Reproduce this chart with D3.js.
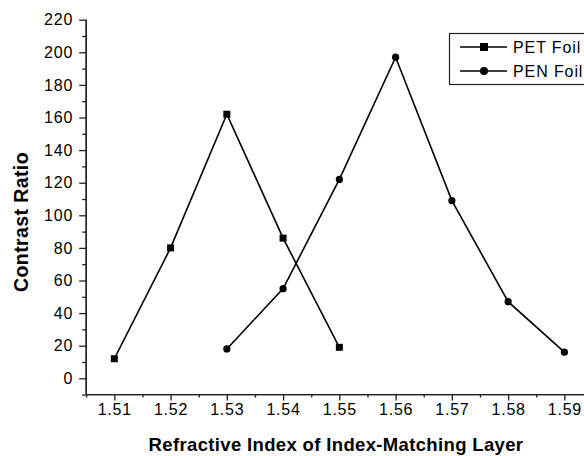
<!DOCTYPE html>
<html>
<head>
<meta charset="utf-8">
<script src="https://cdn.jsdelivr.net/npm/d3@7/dist/d3.min.js"></script>
<style>
  html, body { margin: 0; padding: 0; background: #fff; }
  svg { display: block; }
  text { font-family: "Liberation Sans", Arial, sans-serif; fill: #000; }
</style>
</head>
<body>
<svg id="chart" width="584" height="456"></svg>
<script>
// ---- data ----
const refractiveIndex = [1.51, 1.52, 1.53, 1.54, 1.55, 1.56, 1.57, 1.58, 1.59];
const petIndex = [1.51, 1.52, 1.53, 1.54, 1.55];
const petContrast = [12, 80, 162, 86, 19];
const penIndex = [1.53, 1.54, 1.55, 1.56, 1.57, 1.58, 1.59];
const penContrast = [18, 55, 122, 197, 109, 47, 16];
const yTicks = [0, 20, 40, 60, 80, 100, 120, 140, 160, 180, 200, 220];
const yMinorTicks = [-10, 10, 30, 50, 70, 90, 110, 130, 150, 170, 190, 210];
const xMinorTicks = [1.505, 1.515, 1.525, 1.535, 1.545, 1.555, 1.565, 1.575, 1.585, 1.595];
const seriesNames = ["PET Foil", "PEN Foil"];
const xTitle = "Refractive Index of Index-Matching Layer";
const yTitle = "Contrast Ratio";

const svg = d3.select("#chart");
const x = d3.scaleLinear().domain([1.505, 1.595]).range([86.2, 592.5]);
const y = d3.scaleLinear().domain([-10, 220]).range([394.6, 19.7]);
const x0 = x.range()[0], yb = y.range()[0];

// Y axis
const yAxis = svg.append("g").attr("transform", `translate(${x0},0)`);
yAxis.call(d3.axisLeft(y).tickValues(yTicks).tickSize(7).tickPadding(6).tickFormat(d3.format("d")));
yAxis.append("g").call(d3.axisLeft(y).tickValues(yMinorTicks).tickSize(4).tickFormat(""));
yAxis.selectAll(".domain").attr("d", `M0,${y(220)}V${yb}`);
// X axis
const xAxis = svg.append("g").attr("transform", `translate(0,${yb})`);
xAxis.call(d3.axisBottom(x).tickValues(refractiveIndex).tickSize(6).tickPadding(3).tickFormat(d3.format(".2f")));
xAxis.append("g").call(d3.axisBottom(x).tickValues(xMinorTicks).tickSize(3).tickFormat(""));
xAxis.selectAll(".domain").attr("d", `M${x0},0H584`);

svg.selectAll(".domain, .tick line").attr("stroke", "#222").attr("stroke-width", 1.3);
svg.selectAll(".tick text")
  .style("font-size", "16px").style("letter-spacing", "0.8px").attr("fill", "#111");

// Titles
svg.append("text")
  .attr("transform", `translate(28,222) rotate(-90)`)
  .attr("text-anchor", "middle")
  .style("font-size", "19.5px").style("font-weight", "bold").style("letter-spacing", "0.4px")
  .text(yTitle);
svg.append("text")
  .attr("x", 336).attr("y", 451)
  .attr("text-anchor", "middle")
  .style("font-size", "18.5px").style("font-weight", "bold").style("letter-spacing", "0.35px")
  .text(xTitle);

// Lines
const line = d3.line().x(d => x(d[0])).y(d => y(d[1]));
const pet = petIndex.map((v, i) => [v, petContrast[i]]);
const pen = penIndex.map((v, i) => [v, penContrast[i]]);
svg.append("path").datum(pet).attr("d", line).attr("fill", "none").attr("stroke", "#000").attr("stroke-width", 1.6);
svg.append("path").datum(pen).attr("d", line).attr("fill", "none").attr("stroke", "#000").attr("stroke-width", 1.6);

svg.append("g").selectAll("rect").data(pet).join("rect")
  .attr("x", d => x(d[0]) - 3.5).attr("y", d => y(d[1]) - 3.5)
  .attr("width", 7).attr("height", 7).attr("fill", "#000");
svg.append("g").selectAll("circle").data(pen).join("circle")
  .attr("cx", d => x(d[0])).attr("cy", d => y(d[1])).attr("r", 3.6).attr("fill", "#000");

// Legend
const lg = svg.append("g");
lg.append("rect").attr("x", 449.5).attr("y", 33.5).attr("width", 140).attr("height", 51)
  .attr("fill", "#fff").attr("stroke", "#222").attr("stroke-width", 1.2);
const rows = [47, 71];
seriesNames.forEach((name, i) => {
  const cy = rows[i];
  lg.append("line").attr("x1", 460).attr("x2", 507).attr("y1", cy).attr("y2", cy)
    .attr("stroke", "#000").attr("stroke-width", 1.6);
  if (i === 0) {
    lg.append("rect").attr("x", 480).attr("y", cy - 4).attr("width", 8).attr("height", 8).attr("fill", "#000");
  } else {
    lg.append("circle").attr("cx", 484).attr("cy", cy).attr("r", 4).attr("fill", "#000");
  }
  lg.append("text").attr("x", 513).attr("y", cy).attr("dy", "0.35em")
    .style("font-size", "16px").style("letter-spacing", "0.9px").text(name);
});
</script>
</body>
</html>
